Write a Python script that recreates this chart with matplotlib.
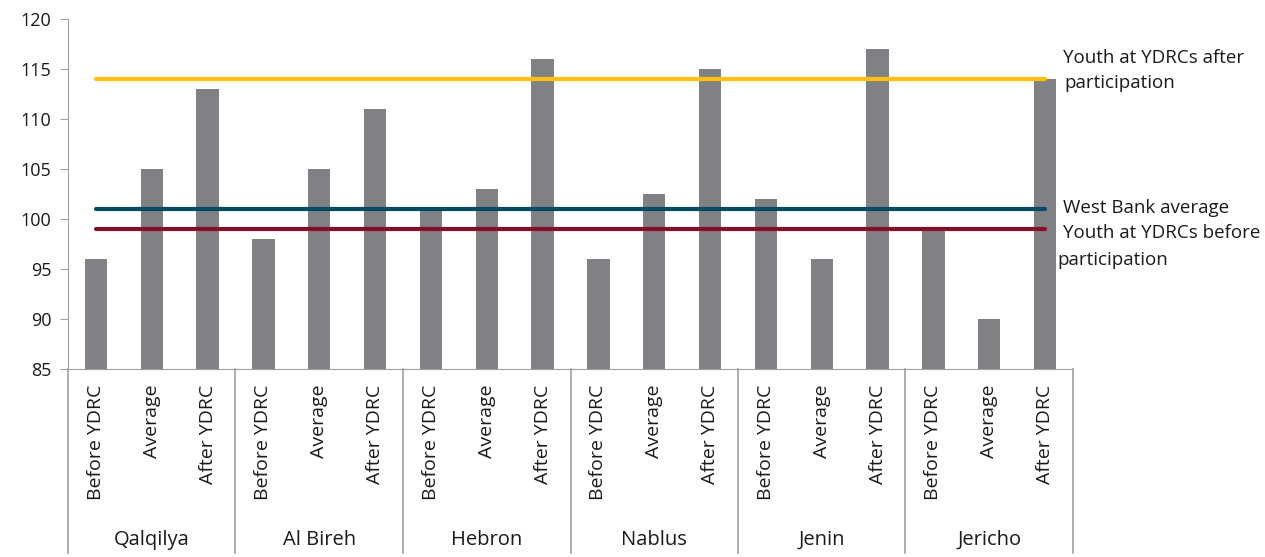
import numpy as np
import matplotlib
matplotlib.use('agg')
import matplotlib.pyplot as plt
import matplotlib.transforms as mtransforms

# scores per governorate: before YDRC, governorate average, after YDRC
governorates = ['Qalqilya', 'Al Bireh', 'Hebron', 'Nablus', 'Jenin', 'Jericho']
sub_labels = ['Before YDRC', 'Average', 'After YDRC']
before_ydrc = [96, 98, 101, 96, 102, 99]
average = [105, 105, 103, 102.5, 96, 90]
after_ydrc = [113, 111, 116, 115, 117, 114]

# reference lines
youth_after = 114
west_bank_avg = 101
youth_before = 99

plt.rcParams['font.family'] = ['Open Sans', 'DejaVu Sans']

values = []
for b, a, f in zip(before_ydrc, average, after_ydrc):
    values += [b, a, f]
x = np.arange(len(values))
ticklabels = sub_labels * len(governorates)

fig = plt.figure(figsize=(12.65, 5.57), dpi=100)
ax = fig.add_axes([68/1265, 1 - 369/557, 1005/1265, 350/557])

ax.bar(x, values, width=0.4, color='#808184', zorder=2)

# horizontal reference lines across the groups
ax.plot([x[0], x[-1]], [youth_after, youth_after], color='#FFC000', lw=3,
        solid_capstyle='round', zorder=3)
ax.plot([x[0], x[-1]], [west_bank_avg, west_bank_avg], color='#064A61', lw=3,
        solid_capstyle='round', zorder=3)
ax.plot([x[0], x[-1]], [youth_before, youth_before], color='#870B2A', lw=3,
        solid_capstyle='round', zorder=3)

ax.set_xlim(-0.5, len(values) - 0.5)
ax.set_ylim(85, 120)
ax.set_yticks(np.arange(85, 121, 5))

axis_grey = '#A0A0A0'
txt = '#1a1a1a'
for side in ['top', 'right']:
    ax.spines[side].set_visible(False)
ax.spines['left'].set_color(axis_grey)
ax.spines['bottom'].set_color(axis_grey)

ax.set_xticks(x)
ax.set_xticklabels(ticklabels, rotation=90, fontsize=14, color=txt)
ax.tick_params(axis='x', length=0, pad=11)
ax.tick_params(axis='y', length=6, color=axis_grey, labelsize=13,
               labelcolor=txt, pad=6)

# group separators and governorate names below the axis
trans = mtransforms.blended_transform_factory(ax.transData, ax.transAxes)
for i in range(len(governorates) + 1):
    xb = i * 3 - 0.5
    ax.plot([xb, xb], [0, -0.526], transform=trans, color=axis_grey, lw=1.2,
            clip_on=False)
for i, name in enumerate(governorates):
    ax.text(i * 3 + 1, -0.489, name, transform=trans, ha='center', va='center',
            fontsize=14.5, color=txt)

# line labels on the right
rtrans = mtransforms.blended_transform_factory(ax.transAxes, ax.transData)
right_labels = [
    (0.990, 116.1, 'Youth at YDRCs after'),
    (0.991, 113.6, 'participation'),
    (0.990, 101.1, 'West Bank average'),
    (0.990, 98.6, 'Youth at YDRCs before'),
    (0.984, 95.9, 'participation'),
]
for xr, yr, label in right_labels:
    ax.text(xr, yr, label, transform=rtrans, ha='left', va='center',
            fontsize=13.5, color=txt)

plt.savefig('out.png', dpi=100)
